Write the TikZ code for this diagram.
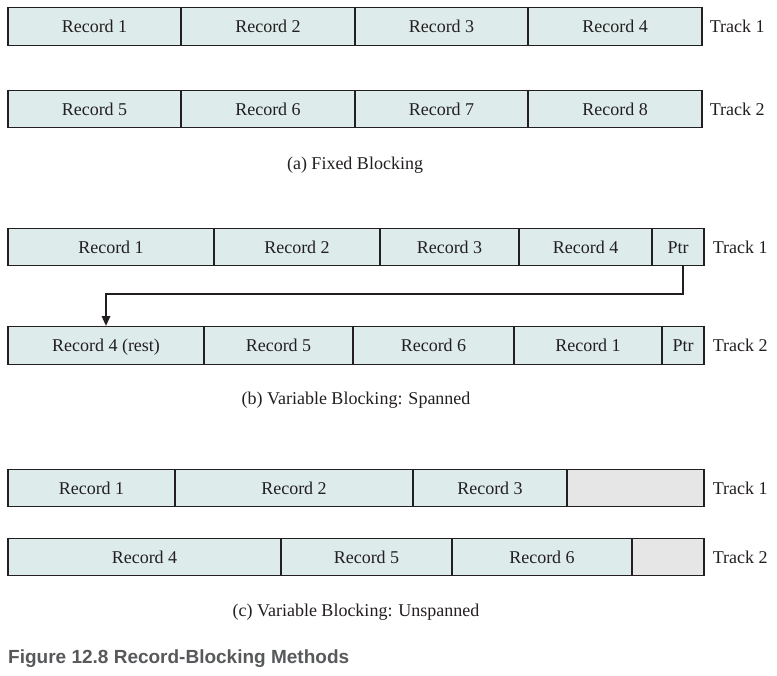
\documentclass[tikz,border=0pt]{standalone}
\usepackage{fontspec}
\setmainfont{Liberation Serif}
\newfontfamily\titlefont{Liberation Sans}
\usetikzlibrary{arrows.meta,calc}
\definecolor{cellfill}{HTML}{DDEBEB}
\definecolor{emptyfill}{HTML}{E6E6E6}
\definecolor{titlegray}{HTML}{58595B}
\definecolor{textdark}{HTML}{231F20}
\tikzset{
  cell/.style={draw=textdark, line width=1.1pt, fill=cellfill, inner sep=0pt, minimum height=37.5pt,
    text height=14pt, text depth=1.5pt,
    font=\fontsize{18}{20}\selectfont, text=textdark},
  emptycell/.style={cell, fill=emptyfill},
  tracklabel/.style={anchor=west, inner sep=0pt, text height=14pt, text depth=1.5pt, font=\fontsize{18}{20}\selectfont, text=textdark},
  caption/.style={inner sep=0pt, text height=14pt, text depth=1.5pt, font=\fontsize{18}{20}\selectfont, text=textdark},
  ptrline/.style={draw=textdark, line width=2.6pt, -{Triangle[length=10pt,width=8pt]}},
}
\begin{document}
\begin{tikzpicture}[x=1pt,y=-1pt]
\useasboundingbox[fill=white] (0,0) rectangle (777,676);
% (a) fixed blocking
\node[cell, minimum width=173pt] (a11) at (94.5,26.5) {Record 1};
\node[cell, minimum width=174pt] (a12) at (268,26.5) {Record 2};
\node[cell, minimum width=173pt] (a13) at (441.5,26.5) {Record 3};
\node[cell, minimum width=174pt] (a14) at (615,26.5) {Record 4};
\node[tracklabel] (ta1) at ([xshift=7pt]a14.east) {Track 1};
\node[cell, minimum width=173pt] (a21) at (94.5,109) {Record 5};
\node[cell, minimum width=174pt] (a22) at (268,109) {Record 6};
\node[cell, minimum width=173pt] (a23) at (441.5,109) {Record 7};
\node[cell, minimum width=174pt] (a24) at (615,109) {Record 8};
\node[tracklabel] (ta2) at ([xshift=7pt]a24.east) {Track 2};
\node[caption] (capa) at (355,163) {(a) Fixed Blocking};
% (b) variable blocking spanned
\node[cell, minimum width=206pt] (b11) at (111,247) {Record 1};
\node[cell, minimum width=166pt] (b12) at (297,247) {Record 2};
\node[cell, minimum width=139pt] (b13) at (449.5,247) {Record 3};
\node[cell, minimum width=133pt] (b14) at (585.5,247) {Record 4};
\node[cell, minimum width=52pt] (b1p) at (678,247) {Ptr};
\node[tracklabel] (tb1) at ([xshift=8pt]b1p.east) {Track 1};
\node[cell, minimum width=196pt] (b21) at (106,345.5) {Record 4 (rest)};
\node[cell, minimum width=149pt] (b22) at (278.5,345.5) {Record 5};
\node[cell, minimum width=161pt] (b23) at (433.5,345.5) {Record 6};
\node[cell, minimum width=148pt] (b24) at (588,345.5) {Record 1};
\node[cell, minimum width=42pt] (b2p) at (683,345.5) {Ptr};
\node[tracklabel] (tb2) at ([xshift=8pt]b2p.east) {Track 2};
\draw[ptrline] ([xshift=5pt]b1p.south) |- ($(b21.north)+(0,-32)$) -- (b21.north);
\node[caption] (capb) at (356,398) {(b) Variable Blocking: Spanned};
% (c) variable blocking unspanned
\node[cell, minimum width=167pt] (c11) at (91.5,488) {Record 1};
\node[cell, minimum width=238pt] (c12) at (294,488) {Record 2};
\node[cell, minimum width=154pt] (c13) at (490,488) {Record 3};
\node[emptycell, minimum width=137pt] (c14) at (635.5,488) {};
\node[tracklabel] (tc1) at ([xshift=8pt]c14.east) {Track 1};
\node[cell, minimum width=273pt] (c21) at (144.5,557) {Record 4};
\node[cell, minimum width=171pt] (c22) at (366.5,557) {Record 5};
\node[cell, minimum width=180pt] (c23) at (542,557) {Record 6};
\node[emptycell, minimum width=72pt] (c24) at (668,557) {};
\node[tracklabel] (tc2) at ([xshift=8pt]c24.east) {Track 2};
\node[caption] (capc) at (356,610) {(c) Variable Blocking: Unspanned};
% figure title
\node[anchor=west, inner sep=0pt, text=titlegray, font=\titlefont\bfseries\fontsize{19}{22}\selectfont] (title) at (8,659) {Figure 12.8 Record-Blocking Methods};
\end{tikzpicture}
\end{document}
